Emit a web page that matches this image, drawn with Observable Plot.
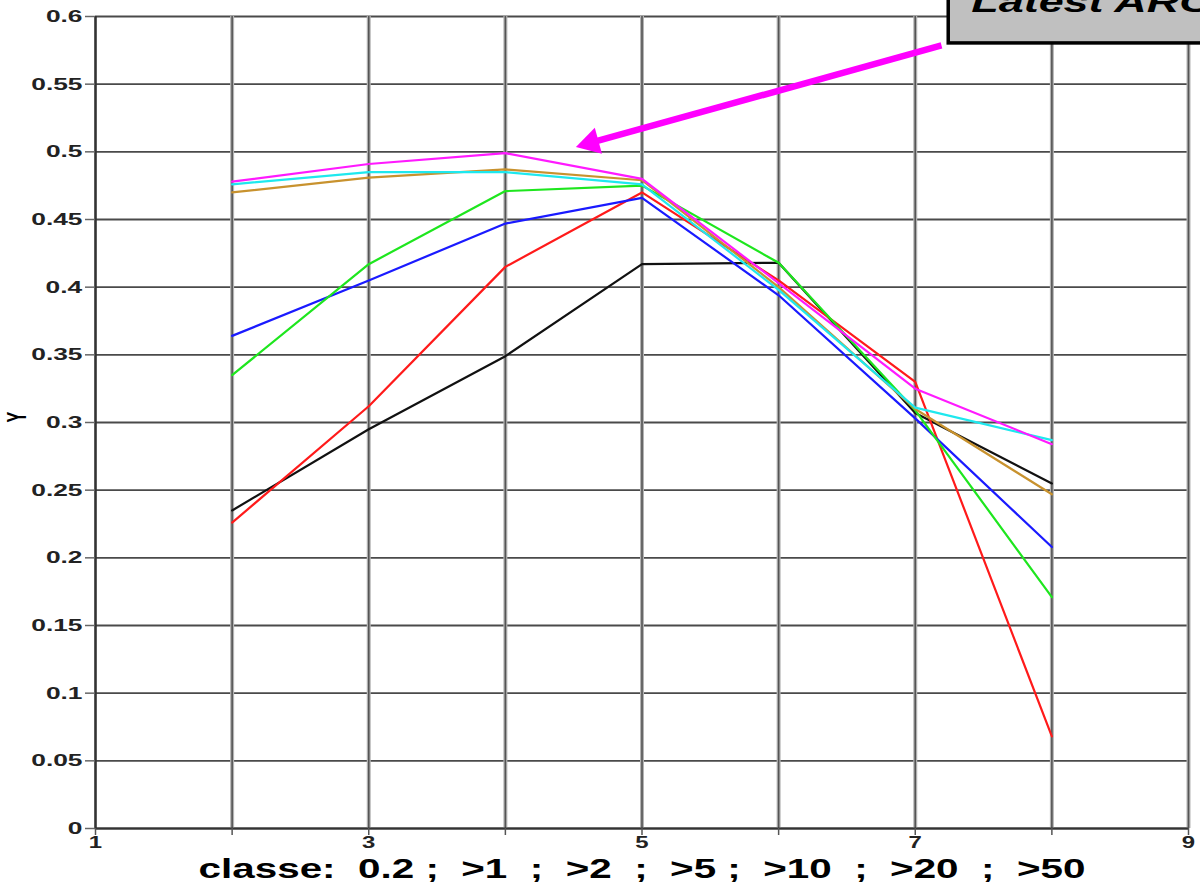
<!DOCTYPE html>
<html>
<head>
<meta charset="utf-8">
<script src="https://cdn.jsdelivr.net/npm/d3@7"></script>
<script src="https://cdn.jsdelivr.net/npm/@observablehq/plot@0.6"></script>
<style>
  html, body { margin: 0; padding: 0; background: #fff; overflow: hidden; }
  #chart svg text { white-space: pre; }
</style>
</head>
<body>
<div id="chart"></div>
<script>
// ---- data ----
const classes = [2, 3, 4, 5, 6, 7, 8];
const blackSeries   = [0.235, 0.295, 0.349, 0.417, 0.418, 0.307, 0.255];
const redSeries     = [0.226, 0.312, 0.415, 0.470, 0.405, 0.330, 0.068];
const blueSeries    = [0.364, 0.405, 0.447, 0.466, 0.394, 0.303, 0.208];
const greenSeries   = [0.335, 0.417, 0.471, 0.475, 0.418, 0.309, 0.171];
const goldSeries    = [0.470, 0.481, 0.487, 0.479, 0.400, 0.310, 0.247];
const cyanSeries    = [0.476, 0.485, 0.485, 0.476, 0.398, 0.311, 0.287];
const magentaSeries = [0.478, 0.491, 0.499, 0.480, 0.403, 0.325, 0.284];

const seriesNames  = ["black", "red", "blue", "green", "gold", "cyan", "magenta"];
const seriesValues = [blackSeries, redSeries, blueSeries, greenSeries, goldSeries, cyanSeries, magentaSeries];
const seriesColors = ["#111111", "#ff1a1a", "#1a1aff", "#1ee61e", "#c8922e", "#1ee8ee", "#ff1aff"];

const yTickValues = [0, 0.05, 0.1, 0.15, 0.2, 0.25, 0.3, 0.35, 0.4, 0.45, 0.5, 0.55, 0.6];
const yTickLabels = ["0", "0.05", "0.1", "0.15", "0.2", "0.25", "0.3", "0.35", "0.4", "0.45", "0.5", "0.55", "0.6"];
const xTickValues = [1, 2, 3, 4, 5, 6, 7, 8, 9];
const xLabelValues = [1, 3, 5, 7, 9];
const xLabelTexts = ["1", "3", "5", "7", "9"];
const xGridValues = [2, 3, 4, 5, 6, 7, 8, 9];

const xTitle = "classe:  0.2 ;  >1  ;  >2  ;  >5 ;  >10  ;  >20  ;  >50";
const yTitle = "Y";

// annotation (data coordinates)
const noteText = "Latest ARO";
const noteBox = [{x1: 7.245, x2: 9.6, y1: 0.5801, y2: 0.66}];
const notePos = [{x: 7.41, y: 0.6035}];
const arrowShaft = [{x1: 7.192, y1: 0.5786, x2: 4.64, y2: 0.5071}];
const arrowHead = [{x: 4.626, y: 0.5067}];

// ---- build ----
const rows = seriesNames.map((name, s) =>
  classes.map((c, i) => ({name, x: c, y: seriesValues[s][i]}))
);
const yLabelRows = yTickValues.map((v, i) => ({v, t: yTickLabels[i]}));
const xLabelRows = xLabelValues.map((v, i) => ({v, t: xLabelTexts[i]}));

const font = "'Liberation Sans', Arial, Helvetica, sans-serif";

const marks = [
  Plot.ruleY(yTickValues, {stroke: "#4a4a4a", strokeWidth: 1.8}),
  Plot.ruleX(xGridValues, {y1: 0, y2: 0.6, stroke: "#b4b4b4", strokeWidth: 4}),
  Plot.ruleX(xGridValues, {y1: 0, y2: 0.6, stroke: "#555555", strokeWidth: 1.6}),
  Plot.ruleX([1], {y1: 0, y2: 0.6, stroke: "#333", strokeWidth: 2.6}),
  Plot.ruleY([0], {stroke: "#333", strokeWidth: 2.2}),
  Plot.axisY({ticks: yTickValues, tickSize: 10, label: null, tickFormat: () => "", stroke: "#666", strokeWidth: 1.5}),
  Plot.axisX({ticks: xTickValues, tickSize: 7, label: null, tickFormat: () => "", stroke: "#555", strokeWidth: 1.5}),
  Plot.text(yLabelRows, {x: () => 1, y: "v", text: "t", textAnchor: "end", dx: -13,
    fontSize: 17, fontWeight: "bold", fill: "#222"}),
  Plot.text(xLabelRows, {x: "v", y: () => 0, text: "t", lineAnchor: "top", dy: 8,
    fontSize: 16.5, fontWeight: "bold", fill: "#222"}),
  Plot.text([yTitle], {frameAnchor: "left", dx: -78, rotate: -90, fontSize: 16, fontWeight: "bold", fill: "#000"}),
  Plot.text([xTitle], {frameAnchor: "bottom", dy: 49, fontSize: 28, fontWeight: "bold", fill: "#000"})
];

rows.forEach((r, s) => {
  marks.push(Plot.line(r, {x: "x", y: "y", stroke: seriesColors[s], strokeWidth: 2.2}));
});

marks.push(
  Plot.link(arrowShaft, {x1: "x1", y1: "y1", x2: "x2", y2: "y2", stroke: "#ff00ff", strokeWidth: 6.5, strokeLinecap: "butt"}),
  Plot.dot(arrowHead, {x: "x", y: "y", symbol: "triangle", r: 10, fill: "#ff00ff", stroke: null, rotate: 254.5}),
  Plot.rect(noteBox, {x1: "x1", x2: "x2", y1: "y1", y2: "y2", fill: "#c0c0c0", stroke: "#000", strokeWidth: 3.5}),
  Plot.text(notePos, {x: "x", y: "y", text: () => noteText, textAnchor: "start", lineAnchor: "bottom",
    fontSize: 30, fontWeight: "bold", fontStyle: "italic", fill: "#000"})
);

const chart = Plot.plot({
  width: 1200,
  height: 882,
  marginLeft: 95,
  marginRight: 12,
  marginTop: 16,
  marginBottom: 54,
  style: {fontFamily: font, background: "#fff", overflow: "hidden"},
  x: {domain: [1, 9]},
  y: {domain: [0, 0.6]},
  marks
});

document.getElementById("chart").append(chart);

// horizontally stretched lettering, as in the reference:
// wrap each text in a <g> scaled horizontally about its anchor point
const svgNS = "http://www.w3.org/2000/svg";
function stretchX(t, f, anchor) {
  const g = document.createElementNS(svgNS, "g");
  t.parentNode.insertBefore(g, t);
  g.appendChild(t);
  const b = g.getBBox();
  const ax = anchor === "end" ? b.x + b.width : anchor === "start" ? b.x : b.x + b.width / 2;
  g.setAttribute("transform", `translate(${ax},0) scale(${f},1) translate(${-ax},0)`);
}
try {
  const texts = Array.from(chart.querySelectorAll("text"));
  for (const t of texts) {
    const s = t.textContent;
    if (s === "") continue;
    if (s === yTitle) stretchX(t, 1.7, "middle");
    else if (s === xTitle) stretchX(t, 887 / t.getBBox().width, "middle");
    else if (s === noteText) stretchX(t, 243 / t.getBBox().width, "start");
    else if (/^[0-9.]+$/.test(s)) {
      const isY = s.includes(".") || s === "0";
      stretchX(t, isY ? 1.55 : 1.45, isY ? "end" : "middle");
    }
  }
} catch (e) { /* keep unstretched text if measuring fails */ }
</script>
</body>
</html>
